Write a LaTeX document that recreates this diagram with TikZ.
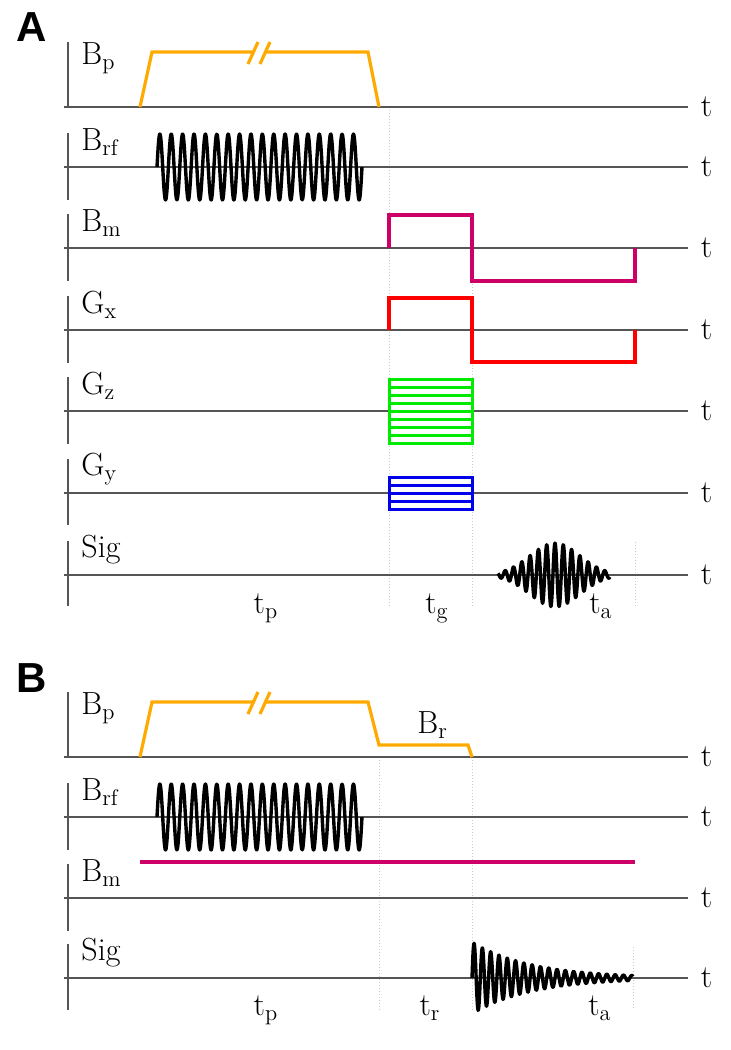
\documentclass[tikz,border=0pt]{standalone}
\usepackage{fontspec}
\newfontfamily\panelfont{Liberation Sans}
\usetikzlibrary{calc}
\definecolor{pulseorange}{RGB}{255,170,0}
\definecolor{gradmagenta}{RGB}{204,0,102}
\definecolor{gradred}{RGB}{255,0,0}
\definecolor{gradgreen}{RGB}{0,235,0}
\definecolor{gradblue}{RGB}{0,0,235}
\definecolor{axisgray}{RGB}{85,85,85}
\tikzset{
    every node/.style={font=\fontsize{16}{19}\selectfont, inner sep=1pt},
    axis/.style={draw=axisgray, line width=0.9pt},
    guide/.style={draw=gray!40, line width=0.5pt, densely dotted},
    wave/.style={black, line width=1.7pt, line join=round},
    pulse/.style={line width=1.6pt},
    steps/.style={line width=1.5pt},
    rowlabel/.style={anchor=base west},
    tmark/.style={anchor=west, inner xsep=6pt},
    tspan/.style={anchor=base},
    panel/.style={font=\panelfont\bfseries\fontsize{21}{24}\selectfont, anchor=base west, inner sep=0pt},
}

\begin{document}
\begin{tikzpicture}[x=0.5pt, y=-0.5pt]
  \useasboundingbox (0,0) rectangle (731,1050);

  % ---------------- panel A ----------------
  \node[panel] (labA) at (16,41) {A};
  % timing guides
  \draw[guide] (389,107) -- (389,606);
  \draw[guide] (472,215) -- (472,606);
  \draw[guide] (635,542) -- (635,606);
  % axes
  \draw[axis] (68,42) -- (68,107);
  \draw[axis] (64,107) -- (688,107) node[tmark] (tBpA) {t};
  \draw[axis] (68,133) -- (68,200);
  \draw[axis] (64,167) -- (688,167) node[tmark] (tBrfA) {t};
  \draw[axis] (68,214) -- (68,281);
  \draw[axis] (64,248) -- (688,248) node[tmark] (tBmA) {t};
  \draw[axis] (68,296) -- (68,363);
  \draw[axis] (64,330) -- (688,330) node[tmark] (tGxA) {t};
  \draw[axis] (68,377) -- (68,444);
  \draw[axis] (64,411) -- (688,411) node[tmark] (tGzA) {t};
  \draw[axis] (68,459) -- (68,525);
  \draw[axis] (64,493) -- (688,493) node[tmark] (tGyA) {t};
  \draw[axis] (68,541) -- (68,606);
  \draw[axis] (64,575) -- (688,575) node[tmark] (tSigA) {t};
  % row labels
  \node[rowlabel] (BpA) at (79,64) {B$_\mathrm{p}$};
  \node[rowlabel] (BrfA) at (79,150) {B$_\mathrm{rf}$};
  \node[rowlabel] (BmA) at (79,231) {B$_\mathrm{m}$};
  \node[rowlabel] (GxA) at (79,313) {G$_\mathrm{x}$};
  \node[rowlabel] (GzA) at (79,394) {G$_\mathrm{z}$};
  \node[rowlabel] (GyA) at (79,475) {G$_\mathrm{y}$};
  \node[rowlabel] (SigA) at (79,557) {Sig};
  % polarising field with break
  \draw[pulse, pulseorange] (140,107) -- (152,52) -- (253,52);
  \draw[pulse, pulseorange] (265,52) -- (368,52) -- (379,107);
  \draw[pulse, pulseorange] (248,64) -- (258,42);
  \draw[pulse, pulseorange] (260,64) -- (270,42);
  % rf burst
  \draw[wave] plot[domain=157:362, samples=500] (\x, {167-33*sin((\x-157)*31.61)});
  % gradients
  \draw[pulse, gradmagenta] (389,248) -- (389,215) -- (472,215) -- (472,281) -- (635,281) -- (635,248);
  \draw[pulse, gradred] (389,330) -- (389,298) -- (472,298) -- (472,362) -- (635,362) -- (635,330);
  \draw[steps, gradgreen] (389,379) rectangle (472,443);
  \draw[steps, gradgreen] (389,387) -- (472,387);
  \draw[steps, gradgreen] (389,395) -- (472,395);
  \draw[steps, gradgreen] (389,403) -- (472,403);
  \draw[steps, gradgreen] (389,411) -- (472,411);
  \draw[steps, gradgreen] (389,419) -- (472,419);
  \draw[steps, gradgreen] (389,427) -- (472,427);
  \draw[steps, gradgreen] (389,435) -- (472,435);
  \draw[steps, gradblue] (389,477) rectangle (472,509);
  \draw[steps, gradblue] (389,485) -- (472,485);
  \draw[steps, gradblue] (389,493) -- (472,493);
  \draw[steps, gradblue] (389,501) -- (472,501);
  % echo
  \draw[wave] plot[domain=498:610, samples=300] (\x, {575-32*exp(-((\x-555)/25)^2/2)*cos((\x-555)*43.37)});
  % intervals
  \node[tspan] (tpA) at (266,613) {t$_\mathrm{p}$};
  \node[tspan] (tgA) at (437,613) {t$_\mathrm{g}$};
  \node[tspan] (taA) at (601,613) {t$_\mathrm{a}$};

  % ---------------- panel B ----------------
  \node[panel] (labB) at (16,692) {B};
  \draw[guide] (379,757) -- (379,1010);
  \draw[guide] (472,757) -- (472,1010);
  \draw[guide] (633,947) -- (633,1010);
  \draw[axis] (68,692) -- (68,757);
  \draw[axis] (64,757) -- (688,757) node[tmark] (tBpB) {t};
  \draw[axis] (68,783) -- (68,850);
  \draw[axis] (64,817) -- (688,817) node[tmark] (tBrfB) {t};
  \draw[axis] (68,864) -- (68,931);
  \draw[axis] (64,898) -- (688,898) node[tmark] (tBmB) {t};
  \draw[axis] (68,944) -- (68,1010);
  \draw[axis] (64,978) -- (688,978) node[tmark] (tSigB) {t};
  \node[rowlabel] (BpB) at (79,714) {B$_\mathrm{p}$};
  \node[rowlabel] (BrfB) at (79,800) {B$_\mathrm{rf}$};
  \node[rowlabel] (BmB) at (79,881) {B$_\mathrm{m}$};
  \node[rowlabel] (SigB) at (79,960) {Sig};
  \node[rowlabel] (Br) at (415,733) {B$_\mathrm{r}$};
  \draw[pulse, pulseorange] (140,757) -- (152,702) -- (253,702);
  \draw[pulse, pulseorange] (265,702) -- (368,702) -- (379,745) -- (468,745) -- (472,757);
  \draw[pulse, pulseorange] (248,714) -- (258,692);
  \draw[pulse, pulseorange] (260,714) -- (270,692);
  \draw[wave] plot[domain=157:362, samples=500] (\x, {817-33*sin((\x-157)*31.61)});
  \draw[pulse, gradmagenta] (140,862) -- (635,862);
  % free induction decay
  \draw[wave] plot[domain=472:633, samples=400] (\x, {978-36*exp(-(\x-472)/60)*sin((\x-472)*43.37)});
  \node[tspan] (tpB) at (266,1015) {t$_\mathrm{p}$};
  \node[tspan] (trB) at (430,1015) {t$_\mathrm{r}$};
  \node[tspan] (taB) at (600,1015) {t$_\mathrm{a}$};
\end{tikzpicture}
\end{document}
